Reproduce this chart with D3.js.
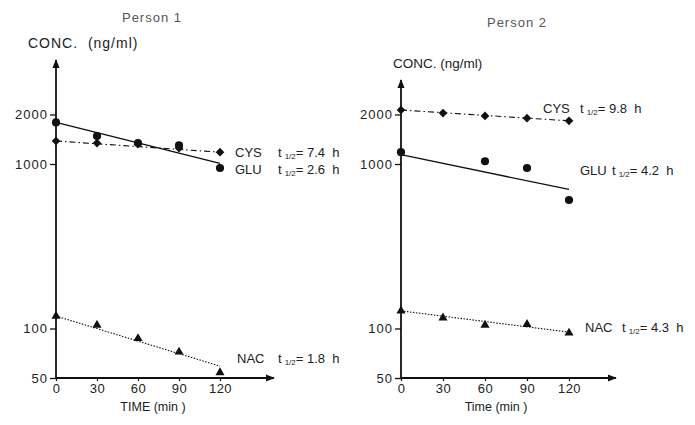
<!DOCTYPE html>
<html>
<head>
<meta charset="utf-8">
<script src="https://cdn.jsdelivr.net/npm/d3@7"></script>
<style>
  body { margin: 0; background: #fff; }
  svg { font-family: "Liberation Sans", Arial, sans-serif; }
  text { white-space: pre; }
</style>
</head>
<body>
<svg id="chart" width="695" height="425"></svg>
<script>
// sampling times (min)
var times = [0, 30, 60, 90, 120];
var timeTicks = [0, 30, 60, 90, 120];
var concTicks = [50, 100, 1000, 2000];

// Person 1 measured values (ng/ml)
var p1Glu = [1790, 1480, 1340, 1300, 945];
var p1Cys = [1380, 1340, 1320, 1250, 1180];
var p1Nac = [119, 105, 87, 72, 54];
// Person 1 fitted lines, value at 0 and 120 min
var p1GluFit = [1790, 1010];
var p1CysFit = [1380, 1180];
var p1NacFit = [119, 59];

// Person 2 measured values (ng/ml)
var p2Cys = [2130, 2040, 1960, 1900, 1830];
var p2GluTimes = [0, 60, 90, 120];
var p2Glu = [1180, 1040, 945, 604];
var p2Nac = [128, 116, 105, 106, 94];
var p2GluFit = [1140, 700];
var p2CysFit = [2130, 1830];
var p2NacFit = [128, 95];

var halfLives1 = {CYS: "7.4", GLU: "2.6", NAC: "1.8"};
var halfLives2 = {CYS: "9.8", GLU: "4.2", NAC: "4.3"};

var svg = d3.select("#chart");

svg.append("defs").append("marker")
    .attr("id", "arrow")
    .attr("viewBox", "0 0 10 10")
    .attr("refX", 9).attr("refY", 5)
    .attr("markerWidth", 5).attr("markerHeight", 5)
    .attr("orient", "auto")
  .append("path")
    .attr("d", "M0,1 L10,5 L0,9 Z")
    .attr("fill", "#111");

var lineStyle = {
  GLU: {dash: null, width: 1.3},
  CYS: {dash: "6,3,1.5,3", width: 1.1},
  NAC: {dash: "1.5,1.5", width: 1.1}
};

function drawPanel(cfg) {
  var x = d3.scaleLinear().domain([0, 120]).range([cfg.x0, cfg.x120]);
  var y = d3.scaleLog().domain([50, 1000]).range([378, 164]);
  var g = svg.append("g");

  // title
  g.append("text")
      .attr("x", cfg.titleX).attr("y", cfg.titleY)
      .attr("text-anchor", "middle")
      .attr("font-size", "13px")
      .attr("letter-spacing", 1)
      .attr("fill", "#555")
      .text(cfg.title);

  g.append("text")
      .attr("x", cfg.concX).attr("y", cfg.concY)
      .attr("font-size", cfg.concSize)
      .attr("letter-spacing", cfg.concSpacing)
      .attr("fill", "#222")
      .text(cfg.concText);

  // y axis
  var yAx = g.append("g")
      .attr("transform", "translate(" + x(0) + ",0)")
      .call(d3.axisLeft(y).tickValues(concTicks).tickFormat(d3.format("d")).tickSize(6).tickPadding(2));
  yAx.select(".domain").remove();
  yAx.selectAll("line").attr("stroke", "#111").attr("stroke-width", 1.3);
  yAx.selectAll("text").attr("font-size", "13px").attr("fill", "#222")
      .attr("letter-spacing", 1)
      .attr("font-family", "Liberation Sans, Arial, sans-serif");

  // x axis
  var xAx = g.append("g")
      .attr("transform", "translate(0," + y(50) + ")")
      .call(d3.axisBottom(x).tickValues(timeTicks).tickSize(3).tickPadding(3));
  xAx.select(".domain").remove();
  xAx.selectAll("line").attr("stroke", "#111").attr("stroke-width", 1.2);
  xAx.selectAll("text").attr("font-size", "13px").attr("fill", "#222")
      .attr("letter-spacing", 0.5)
      .attr("font-family", "Liberation Sans, Arial, sans-serif");

  g.append("line")
      .attr("x1", x(0)).attr("y1", y(50))
      .attr("x2", x(0)).attr("y2", cfg.yTop)
      .attr("stroke", "#111").attr("stroke-width", 1.8)
      .attr("marker-end", "url(#arrow)");
  g.append("line")
      .attr("x1", x(0)).attr("y1", y(50))
      .attr("x2", cfg.xEnd).attr("y2", y(50))
      .attr("stroke", "#111").attr("stroke-width", 1.8)
      .attr("marker-end", "url(#arrow)");

  g.append("text")
      .attr("x", cfg.timeX).attr("y", 411)
      .attr("text-anchor", "middle")
      .attr("font-size", "12.5px")
      .attr("fill", "#222")
      .text(cfg.timeLabel);

  // fitted lines
  cfg.series.forEach(function(s) {
    var st = lineStyle[s.name];
    g.append("line")
        .attr("x1", x(0)).attr("y1", y(s.fit[0]))
        .attr("x2", x(120)).attr("y2", y(s.fit[1]))
        .attr("stroke", "#111")
        .attr("stroke-width", st.width)
        .attr("stroke-dasharray", st.dash);
  });

  // markers
  var shapes = {GLU: d3.symbolCircle, CYS: d3.symbolSquare, NAC: d3.symbolTriangle};
  var sizes = {GLU: 52, CYS: 38, NAC: 36};
  var rot = {GLU: 0, CYS: 45, NAC: 0};
  cfg.series.forEach(function(s) {
    g.selectAll(".pt-" + s.name)
      .data(s.values.map(function(v, i) { return {t: s.times[i], v: v}; }))
      .enter().append("path")
        .attr("class", "pt-" + s.name)
        .attr("transform", function(d) {
          return "translate(" + x(d.t) + "," + y(d.v) + ") rotate(" + rot[s.name] + ")";
        })
        .attr("d", d3.symbol().type(shapes[s.name]).size(sizes[s.name]))
        .attr("fill", "#111");
  });

  // series labels with t1/2
  cfg.series.forEach(function(s) {
    var t = g.append("text")
        .attr("x", s.lx).attr("y", s.ly)
        .attr("font-size", "13px")
        .attr("fill", "#222");
    t.append("tspan").text(s.name);
    t.append("tspan").attr("x", s.tx).text("t");
    t.append("tspan").attr("dx", 3).attr("dy", 2).attr("font-size", "8px").text("1/2");
    t.append("tspan").attr("dy", -2).text("= " + cfg.halfLives[s.name] + "  h");
  });
}

drawPanel({
  title: "Person 1", titleX: 152, titleY: 22,
  concX: 28, concY: 48, concText: "CONC.  (ng/ml)", concSize: "14px", concSpacing: 1,
  x0: 56, x120: 220, xEnd: 274, yTop: 60,
  timeLabel: "TIME (min )", timeX: 153,
  halfLives: halfLives1,
  series: [
    {name: "CYS", times: times, values: p1Cys, fit: p1CysFit, lx: 235, ly: 157, tx: 278},
    {name: "GLU", times: times, values: p1Glu, fit: p1GluFit, lx: 235, ly: 174, tx: 278},
    {name: "NAC", times: times, values: p1Nac, fit: p1NacFit, lx: 237, ly: 363, tx: 278}
  ]
});

drawPanel({
  title: "Person 2", titleX: 517, titleY: 27,
  concX: 393, concY: 68, concText: "CONC. (ng/ml)", concSize: "13.5px", concSpacing: 0,
  x0: 401, x120: 569, xEnd: 616, yTop: 80,
  timeLabel: "Time (min )", timeX: 496,
  halfLives: halfLives2,
  series: [
    {name: "CYS", times: times, values: p2Cys, fit: p2CysFit, lx: 543, ly: 113, tx: 580},
    {name: "GLU", times: p2GluTimes, values: p2Glu, fit: p2GluFit, lx: 580, ly: 175, tx: 612},
    {name: "NAC", times: times, values: p2Nac, fit: p2NacFit, lx: 585, ly: 332, tx: 622}
  ]
});
</script>
</body>
</html>
